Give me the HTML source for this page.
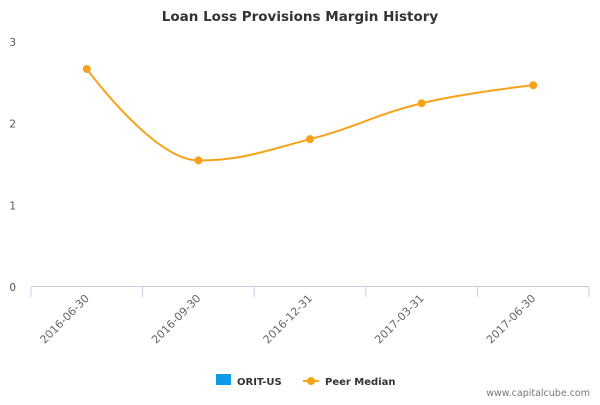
<!DOCTYPE html>
<html><head><meta charset="utf-8"><style>
body{margin:0;background:#fff;font-family:"Liberation Sans","DejaVu Sans",sans-serif}
svg text{font-family:"DejaVu Sans","Liberation Sans",sans-serif}
</style></head><body>
<svg id="c" width="600" height="400" xmlns="http://www.w3.org/2000/svg">
<text x="300" y="21" text-anchor="middle" font-size="13.5" font-weight="bold" fill="#333">Loan Loss Provisions Margin History</text>
<g id="yax"></g>
<g id="xax"></g>
<g id="series"></g>
<g>
<g><rect x="216" y="374" width="15" height="11" fill="#0d9ae8"/><text x="237" y="385" font-size="10" font-weight="bold" fill="#333">ORIT-US</text></g>
<g><line x1="303" y1="381" x2="319" y2="381" stroke="#f8a21a" stroke-width="2"/><circle cx="311" cy="381" r="4" fill="#f8a21a"/><text x="325" y="385" font-size="10" font-weight="bold" fill="#333">Peer Median</text></g>
</g>
<text x="590" y="396" text-anchor="end" font-size="9.5" fill="#777">www.capitalcube.com</text>
</svg>
<script>
const categories=["2016-06-30","2016-09-30","2016-12-31","2017-03-31","2017-06-30"];
const peerMedian=[2.67,1.55,1.81,2.25,2.47];
const yTicks=[0,1,2,3];
const NS="http://www.w3.org/2000/svg";
const L=31,R=589,T=42,B=287,yMax=3;
const bw=(R-L)/categories.length;
const xS=i=>L+bw*(i+0.5);
const yS=v=>B-(B-T)*v/yMax;
function mk(tag,attrs,parent,txt){const e=document.createElementNS(NS,tag);for(const k in attrs)e.setAttribute(k,attrs[k]);if(txt!=null)e.textContent=txt;parent.appendChild(e);return e;}
const yax=document.getElementById('yax'),xax=document.getElementById('xax'),ser=document.getElementById('series');
yTicks.forEach(t=>{const e=mk('text',{x:16,y:yS(t)+4,'text-anchor':'end','font-size':'10.5',fill:'#555'},yax,t);

});
mk('line',{x1:L,y1:B-0.5,x2:R,y2:B-0.5,stroke:'#c0d0e0','stroke-width':1},xax);
for(let i=0;i<=categories.length;i++){const x=L+bw*i;mk('line',{x1:x,y1:B,x2:x,y2:B+10,stroke:'#c0d0e0','stroke-width':1},xax);}
categories.forEach((c,i)=>{const x=xS(i)+3,y=B+12;
const e=mk('text',{x:x,y:y,'text-anchor':'end','font-size':'11',fill:'#666',transform:`rotate(-45 ${x} ${y})`},xax,c);

});
// spline (Highcharts-like)
const pts=peerMedian.map((v,i)=>[xS(i),yS(v)]);
const sm=1.5,den=sm+1;
let d=`M${pts[0][0]},${pts[0][1]}`;
function ctrl(i){const p=pts[i],a=pts[i-1],b=pts[i+1];if(!a||!b)return null;
let lx=(sm*p[0]+a[0])/den,ly=(sm*p[1]+a[1])/den,rx=(sm*p[0]+b[0])/den,ry=(sm*p[1]+b[1])/den;
const cor=((ry-ly)*(rx-p[0]))/(rx-lx)+p[1]-ry;ly+=cor;ry+=cor;
if(ly>a[1]&&ly>p[1]){ly=Math.max(a[1],p[1]);ry=2*p[1]-ly;}else if(ly<a[1]&&ly<p[1]){ly=Math.min(a[1],p[1]);ry=2*p[1]-ly;}
if(ry>b[1]&&ry>p[1]){ry=Math.max(b[1],p[1]);ly=2*p[1]-ry;}else if(ry<b[1]&&ry<p[1]){ry=Math.min(b[1],p[1]);ly=2*p[1]-ry;}
return{l:[lx,ly],r:[rx,ry]};}
for(let i=1;i<pts.length;i++){const c0=ctrl(i-1),c1=ctrl(i);
const a=c0?c0.r:pts[i-1],b=c1?c1.l:pts[i];
d+=` C${a[0]},${a[1]} ${b[0]},${b[1]} ${pts[i][0]},${pts[i][1]}`;}
const path=mk('path',{d:d,fill:'none',stroke:'#f8a21a','stroke-width':2},ser);


pts.forEach(p=>{const c=mk('circle',{cx:p[0],cy:p[1],r:4,fill:'#f8a21a'},ser);

});
</script>
</body></html>
